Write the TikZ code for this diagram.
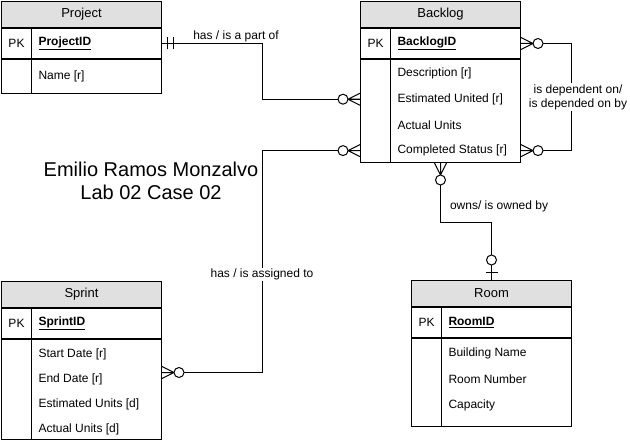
\documentclass[tikz,border=0pt]{standalone}
\usepackage{fontspec}
\setmainfont{Liberation Sans}
\usetikzlibrary{positioning,calc}

\definecolor{headgray}{HTML}{E0E0E0}

\begin{document}
\begin{tikzpicture}[
    x=1pt, y=-1pt,
    line width=1pt,
    head/.style={draw, fill=headgray, minimum width=160pt, minimum height=26pt,
        inner sep=0pt, font={\fontsize{13}{15}\selectfont}},
    keyrow/.style={draw, minimum width=160pt, minimum height=30pt, inner sep=0pt},
    attrbox/.style={draw, minimum width=160pt, inner sep=0pt},
    field/.style={anchor=west, inner sep=0pt, font={\fontsize{12}{14}\selectfont}},
    rel/.style={draw, line width=1pt},
    lbl/.style={font={\fontsize{12}{14}\selectfont}, align=center, inner sep=1pt, fill=white},
    title/.style={font={\fontsize{20}{23}\selectfont}, align=center},
    zmany/.pic={\draw (-12,0) -- (0,-6) (-12,0) -- (0,0) (-12,0) -- (0,6);
        \draw[fill=white] (-17,0) circle (5);},
    zone/.pic={\draw (-7,-6) -- (-7,6);
        \draw[fill=white] (-20,0) circle (5);},
    oneone/.pic={\draw (-5,-6) -- (-5,6) (-11,-6) -- (-11,6);}
]
\fill[white] (0,0) rectangle (630,441);
\useasboundingbox (0,0) rectangle (630,441);

% Project
\node[head, anchor=north west] (project) at (1,1) {Project};
\node[keyrow, below=0pt of project] (projectK) {};
\node[attrbox, minimum height=34pt, below=0pt of projectK] (projectA) {};
\draw ([xshift=30pt]projectK.north west) -- ([xshift=30pt]projectA.south west);
\node[field] at ([xshift=7pt]projectK.west) {PK};
\node[field] at ([xshift=37pt]projectK.west) {\underline{\textbf{ProjectID}}};
\node[field] (project-0) at ([xshift=37pt]projectA.west) {Name [r]};

% Backlog
\node[head, anchor=north west] (backlog) at (360,1) {Backlog};
\node[keyrow, below=0pt of backlog] (backlogK) {};
\node[attrbox, minimum height=103pt, below=0pt of backlogK] (backlogA) {};
\draw ([xshift=30pt]backlogK.north west) -- ([xshift=30pt]backlogA.south west);
\node[field] at ([xshift=7pt]backlogK.west) {PK};
\node[field] at ([xshift=37pt]backlogK.west) {\underline{\textbf{BacklogID}}};
\foreach \i/\t in {0/{Description [r]}, 1/{Estimated United [r]}, 2/{Actual Units}, 3/{Completed Status [r]}}
    \node[field] (backlog-\i) at ([xshift=37pt, yshift={-(14.5+25.7*\i)*1pt}]backlogA.north west) {\t};

% Sprint
\node[head, anchor=north west] (sprint) at (1,281) {Sprint};
\node[keyrow, below=0pt of sprint] (sprintK) {};
\node[attrbox, minimum height=100pt, below=0pt of sprintK] (sprintA) {};
\draw ([xshift=30pt]sprintK.north west) -- ([xshift=30pt]sprintA.south west);
\node[field] at ([xshift=7pt]sprintK.west) {PK};
\node[field] at ([xshift=37pt]sprintK.west) {\underline{\textbf{SprintID}}};
\foreach \i/\t in {0/{Start Date [r]}, 1/{End Date [r]}, 2/{Estimated Units [d]}, 3/{Actual Units [d]}}
    \node[field] (sprint-\i) at ([xshift=37pt, yshift={-(15+25*\i)*1pt}]sprintA.north west) {\t};

% Room
\node[head, anchor=north west] (room) at (411,280) {Room};
\node[keyrow, below=0pt of room] (roomK) {};
\node[attrbox, minimum height=88pt, below=0pt of roomK] (roomA) {};
\draw ([xshift=30pt]roomK.north west) -- ([xshift=30pt]roomA.south west);
\node[field] at ([xshift=7pt]roomK.west) {PK};
\node[field] at ([xshift=37pt]roomK.west) {\underline{\textbf{RoomID}}};
\foreach \i/\t in {0/{Building Name}, 1/{Room Number}, 2/{Capacity}}
    \node[field] (room-\i) at ([xshift=37pt, yshift={-(15+26*\i)*1pt}]roomA.north west) {\t};

\node[title] (heading) at (151,181) {Emilio Ramos Monzalvo\\Lab 02 Case 02};

% relationships
\draw[rel] (projectK.east) -- node[lbl, above, xshift=24pt] {has / is a part of} ++(100,0)
    |- (backlog-1 -| backlogA.west);
\draw[rel] ([yshift=17pt]sprintA.east) -- ++(100,0)
    |- node[lbl, pos=0.22] {has / is assigned to} (backlog-3 -| backlogA.west);
\draw[rel] (backlogK.east) -- ++(50,0)
    |- node[lbl, pos=0.25, xshift=7pt] {is dependent on/\\is depended on by} (backlog-3 -| backlogA.east);
\draw[rel] (backlogA.south) -- node[lbl, pos=0.72, right=8pt] {owns/ is owned by} ++(0,60)
    -| (room.north);

% cardinality marks
\pic at (backlog-1 -| backlogA.west) {zmany};
\pic at (backlog-3 -| backlogA.west) {zmany};
\pic[rotate=180] at (backlogK.east) {zmany};
\pic[rotate=180] at (backlog-3 -| backlogA.east) {zmany};
\pic[rotate=90] at (backlogA.south) {zmany};
\pic[rotate=180] at ([yshift=17pt]sprintA.east) {zmany};
\pic[rotate=-90] at (room.north) {zone};
\pic[rotate=180] at (projectK.east) {oneone};
\end{tikzpicture}
\end{document}
